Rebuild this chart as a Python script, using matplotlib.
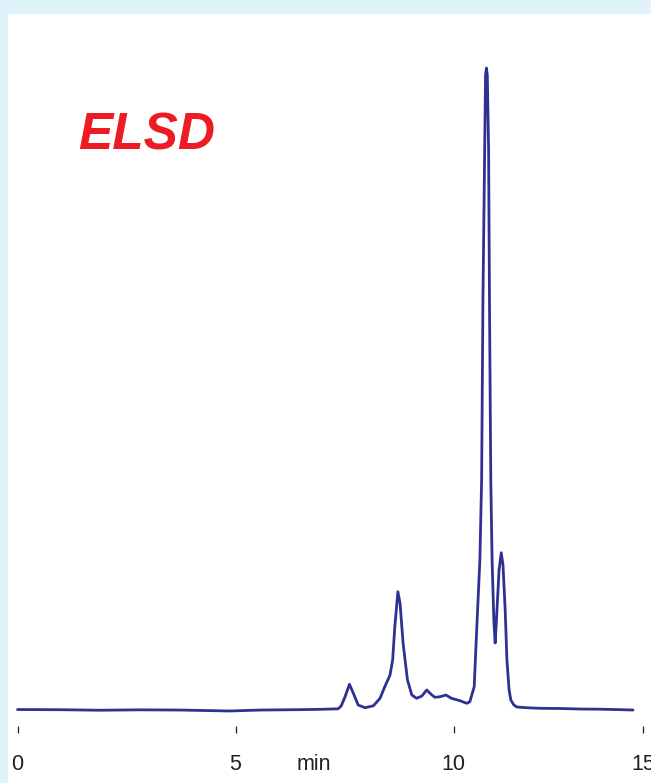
import matplotlib
matplotlib.use("Agg")
import matplotlib.pyplot as plt

# Retention time (min) and ELSD signal (arbitrary units, main peak ~100)
time_min = [0.00, 0.97, 1.89, 2.81, 3.73, 4.87, 5.56, 6.48, 6.93, 7.35,
            7.42, 7.51, 7.61, 7.70, 7.81, 7.97, 8.16, 8.31, 8.42, 8.54,
            8.60, 8.65, 8.72, 8.77, 8.84, 8.94, 9.04, 9.15, 9.27, 9.38,
            9.50, 9.57, 9.69, 9.82, 9.95, 10.14, 10.30, 10.37, 10.47, 10.53,
            10.60, 10.64, 10.67, 10.71, 10.73, 10.75, 10.77, 10.80, 10.82, 10.85,
            10.88, 10.92, 10.95, 10.98, 11.04, 11.09, 11.13, 11.18, 11.22, 11.27,
            11.31, 11.38, 11.45, 11.67, 11.98, 12.44, 12.90, 13.35, 13.81, 14.11]
signal = [0.00, -0.03, -0.11, -0.05, -0.08, -0.23, -0.08, -0.02, 0.03, 0.11,
          0.55, 2.00, 3.94, 2.53, 0.70, 0.28, 0.59, 1.75, 3.56, 5.39,
          7.73, 12.94, 18.41, 16.59, 10.34, 4.61, 2.27, 1.75, 2.11, 3.05,
          2.27, 1.91, 2.00, 2.27, 1.75, 1.38, 0.97, 1.22, 3.56, 12.94,
          23.36, 35.86, 63.98, 87.42, 99.14, 100.23, 99.14, 87.42, 63.98, 35.86,
          23.36, 13.98, 10.39, 13.98, 21.80, 24.50, 22.58, 15.55, 7.73, 3.05,
          1.48, 0.70, 0.39, 0.28, 0.19, 0.16, 0.08, 0.05, -0.02, -0.08]

tick_pos = [0, 5, 10, 14.35]
tick_labels = ["0", "5", "10", "15"]
unit_pos = [6.80]
unit_label = ["min"]
title = "ELSD"

W, H = 651, 783
fig = plt.figure(figsize=(W / 100, H / 100), dpi=100, facecolor="#e1f3fa")

left_px, top_px = 8, 14
ax = fig.add_axes([left_px / W, 0, (W - left_px) / W, (H - top_px) / H])
ax.set_facecolor("white")
for sp in ax.spines.values():
    sp.set_visible(False)

ax.plot(time_min, signal, color="#2e3192", lw=2.0, solid_joinstyle="round",
        solid_capstyle="round")

ax.set_xlim(-0.218, 14.523)
ax.set_ylim(-11.48, 108.67)
ax.set_yticks([])
ax.set_xticks([])

sec = ax.secondary_xaxis(50 / 769)
sec.spines["bottom"].set_visible(False)
sec.set_xticks(tick_pos, labels=tick_labels)
sec.set_xticks(unit_pos, labels=unit_label, minor=True)
sec.tick_params(which="major", direction="in", length=5.0, width=0.9,
                color="#231f20", pad=15, labelsize=15.5, labelcolor="#231f20")
sec.tick_params(which="minor", length=0, pad=15, labelsize=15.5,
                labelcolor="#231f20")
for lab in sec.get_xticklabels(which="both"):
    lab.set_fontfamily("Liberation Sans")

ax.text((78 - left_px) / (W - left_px), (783 - 149) / 769, title,
        transform=ax.transAxes, ha="left", va="baseline",
        fontsize=37, fontweight="bold", fontstyle="italic",
        family="Liberation Sans", color="#ed1c24")

fig.savefig("out.png", dpi=100, facecolor=fig.get_facecolor())
